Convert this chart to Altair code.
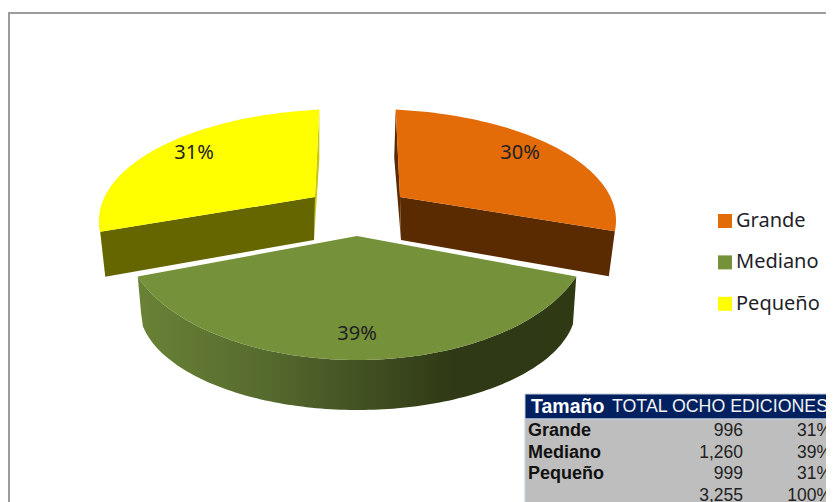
import numpy as np
import pandas as pd
import altair as alt

# ---- values
categories = ["Grande", "Mediano", "Pequeño"]
totals = [996, 1260, 999]
slice_labels = ["30%", "39%", "31%"]
table_totals = ["996", "1,260", "999", "3,255"]
table_shares = ["31%", "39%", "31%", "100%"]
table_rows = ["Grande", "Mediano", "Pequeño", ""]
table_head = ["Tamaño", "TOTAL OCHO EDICIONES"]

# ---- styles
top_colors = ["#E36C09", "#759139", "#FFFF00"]
cut_colors = ["#5A2A00", "#2F3A15", "#666600"]
FONT = "Noto Sans"
W, H = 818, 494

X_SCALE = alt.Scale(domain=[8, 8 + W], range=[0, W])
X = alt.X("x:Q", scale=X_SCALE, axis=None)
Y = alt.Y("y:Q", scale=alt.Scale(domain=[8, 8 + H], range=[0, H]), axis=None)


def arc(cx, cy, a, b, t0, t1, n=60):
    t = np.radians(np.linspace(t0, t1, n))
    return list(zip(cx + a * np.sin(t), cy - b * np.cos(t)))


def frame(pts, **extra):
    d = pd.DataFrame(pts, columns=["x", "y"])
    d["seq"] = range(len(d))
    for k, v in extra.items():
        d[k] = v
    return d


def poly(pts, color):
    return alt.Chart(frame(pts)).mark_line(fill=color, strokeWidth=0).encode(x=X, y=Y, order="seq:Q")


total = sum(totals)
sweeps = [360 * v / total for v in totals]
BACK = 0.813   # foreshortening of the far half of the pie
FRONT = 1.018  # stretching of the near half

# far-right slice (Grande)
g_start = 6
g_end = g_start + sweeps[0] * BACK
g_arc = arc(370, 220.5, 246, 111.5, g_start, g_end)
g_apex = (400, 197)
g_wall = [g_apex, g_arc[-1], (g_arc[-1][0] - 6, g_arc[-1][1] + 45), (401, 240)]
g_back = [g_arc[0], (g_arc[0][0] - 1.5, g_arc[0][1] + 48), (401, 240), g_apex]

# far-left slice (Pequeño)
p_start = -6
p_end = p_start - sweeps[2] * BACK
p_arc = arc(345, 220.5, 246, 111.5, p_start, p_end)
p_apex = (315, 197)
p_wall = [p_apex, p_arc[-1], (p_arc[-1][0] + 5, p_arc[-1][1] + 45), (314, 240)]
p_back = [p_arc[0], (p_arc[0][0], p_arc[0][1] + 50), (314, 240), p_apex]
p_rim = arc(345, 220.5, 246, 111.5, -88, p_end, 10) + [(p_arc[-1][0] + 5, p_arc[-1][1] + 45)]

# near slice (Mediano)
m_half = sweeps[1] / 2 * FRONT
m_apex = (357, 236)
m_t = np.radians(np.linspace(180 + m_half, 180 - m_half, 120))
m_x = 357 + 232 * np.sin(m_t)
m_y = 236 - 124 * np.cos(m_t)
m_top = list(zip(m_x, m_y))
xx = np.array(m_x)
u = np.clip((xx - 357.5) / 218.5, -1, 1)
low = 307 + 103 * np.sqrt(1 - u ** 2)
left = xx < 142
right = xx > 573
low[left] = m_y[0] + (xx[left] - xx[0]) / (142 - xx[0]) * (323 - m_y[0])
low[right] = m_y[-1] + (xx[-1] - xx[right]) / (xx[-1] - 573) * (323 - m_y[-1])
side = pd.DataFrame({"x": xx, "y": m_y, "y2": low})
side_layer = alt.Chart(side).mark_area(
    color=alt.Gradient(
        gradient="linear", x1=0, x2=1, y1=0, y2=0,
        stops=[
            alt.GradientStop(color="#6A8236", offset=0),
            alt.GradientStop(color="#556A2E", offset=0.3),
            alt.GradientStop(color="#2F3915", offset=0.72),
            alt.GradientStop(color="#2F3A15", offset=1),
        ],
    )
).encode(x=X, y=Y, y2="y2:Q")

tops = pd.concat([
    frame([g_apex] + g_arc, cat=categories[0]),
    frame(p_arc + [p_apex], cat=categories[2]),
    frame([m_apex] + m_top, cat=categories[1]),
])
top_layer = alt.Chart(tops).mark_line(strokeWidth=0).encode(
    x=X, y=Y, order="seq:Q",
    fill=alt.Fill(
        "cat:N",
        scale=alt.Scale(domain=categories, range=top_colors),
        legend=alt.Legend(
            orient="none", legendX=707, legendY=203, title=None,
            symbolType="square", symbolSize=196, symbolStrokeWidth=0,
            labelFont=FONT, labelFontSize=20, labelColor="#1f1f2a", labelOffset=1,
            rowPadding=21.4, padding=0, symbolOpacity=1,
        ),
    ),
)

labels = pd.DataFrame({"x": [520, 357, 194], "y": [153, 334, 153], "t": slice_labels})
label_layer = alt.Chart(labels).mark_text(font=FONT, fontSize=20, color="#222222", baseline="middle").encode(
    x=X, y=Y, text="t:N"
)

# frame lines
border_top = alt.Chart(pd.DataFrame({"a": [0]})).mark_rule(color="#9C9C9C", strokeWidth=2).encode(
    x=alt.value(0), x2=alt.value(W), y=alt.value(5))
border_left = alt.Chart(pd.DataFrame({"a": [0]})).mark_rule(color="#9C9C9C", strokeWidth=2).encode(
    x=alt.value(1), y=alt.value(4), y2=alt.value(H))

# table
T_L, T_T, T_H, T_B = 525, 394, 419, 8 + H + 4
tbl_bg = pd.DataFrame({"x": [T_L, T_L], "x2": [840, 840], "y": [T_T, T_H], "y2": [T_H, T_B],
                       "c": ["#002060", "#BEBEBE"]})
bg_layer = alt.Chart(tbl_bg).mark_rect(stroke="#C5CEDD", strokeWidth=1, clip=True).encode(
    x=X, x2="x2:Q", y=Y, y2="y2:Q", fill=alt.Fill("c:N", scale=None))

row_y = [431, 453, 474, 496]
rows = pd.DataFrame({"y": row_y, "name": table_rows, "tot": table_totals, "sh": table_shares})
rows["x0"] = 528
rows["x1"] = 743
rows["x2"] = 832
col0 = alt.Chart(rows).mark_text(font="Liberation Sans", fontWeight="bold", fontSize=18, align="left", color="#111111", clip=True).encode(
    x=alt.X("x0:Q", scale=X_SCALE, axis=None), y=Y, text="name:N")
col1 = alt.Chart(rows).mark_text(font="Liberation Sans", fontSize=17.5, align="right", color="#222222", clip=True).encode(
    x=alt.X("x1:Q", scale=X_SCALE, axis=None), y=Y, text="tot:N")
col2 = alt.Chart(rows).mark_text(font="Liberation Sans", fontSize=17.5, align="right", color="#222222", clip=True).encode(
    x=alt.X("x2:Q", scale=X_SCALE, axis=None), y=Y, text="sh:N")

head = pd.DataFrame({"x": [531, 612], "y": [407, 407], "t": table_head, "w": ["bold", "normal"]})
head_bold = alt.Chart(head[head.w == "bold"]).mark_text(font="Liberation Sans", fontWeight="bold", fontSize=19.5, align="left", color="#FFFFFF").encode(
    x=X, y=Y, text="t:N")
head_reg = alt.Chart(head[head.w == "normal"]).mark_text(font="Liberation Sans", fontSize=17.8, align="left", color="#F2F2F2", clip=True).encode(
    x=X, y=Y, text="t:N")

chart = alt.layer(
    border_top, border_left,
    poly(g_back, cut_colors[0]), poly(g_wall, cut_colors[0]),
    poly(p_back, "#C8C800"), poly(p_rim, "#C8C800"), poly(p_wall, cut_colors[2]),
    side_layer, top_layer, label_layer,
    bg_layer, col0, col1, col2, head_bold, head_reg,
).properties(
    width=W, height=H, padding=0,
    autosize=alt.AutoSizeParams(type="none"),
).configure_view(stroke=None)

chart.save("out.html", embed_options={"renderer": "svg", "actions": False})
